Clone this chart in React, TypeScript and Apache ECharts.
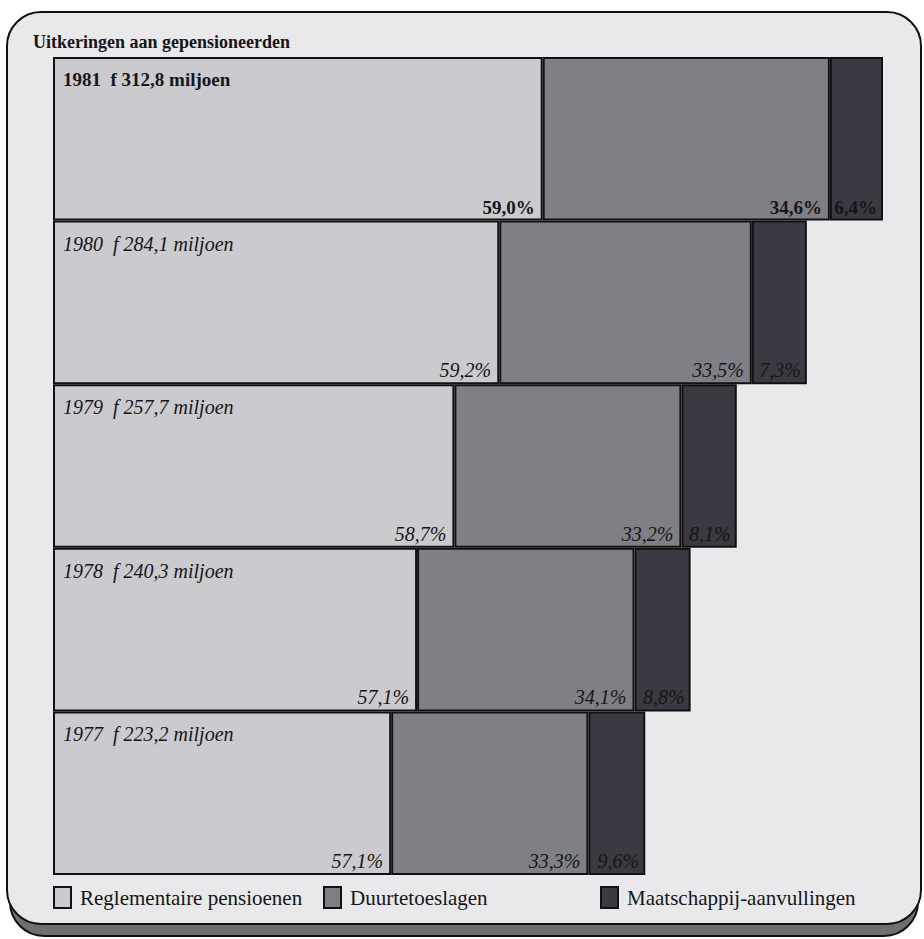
import React, { useEffect, useRef } from "react";
import * as echarts from "echarts";

const years = ["1981", "1980", "1979", "1978", "1977"];
const totals = [312.8, 284.1, 257.7, 240.3, 223.2];
const pctReglementair = [59.0, 59.2, 58.7, 57.1, 57.1];
const pctDuurte = [34.6, 33.5, 33.2, 34.1, 33.3];
const pctMaatschappij = [6.4, 7.3, 8.1, 8.8, 9.6];
const seriesNames = ["Reglementaire pensioenen", "Duurtetoeslagen", "Maatschappij-aanvullingen"];
const seriesColors = ["#cacacf", "#7f7f86", "#3b3941"];
const titleText = "Uitkeringen aan gepensioneerden";

const FONT = "'Liberation Serif', 'DejaVu Serif', serif";

const nl = (v: number) => v.toFixed(1).replace(".", ",");

export default function App() {
  const ref = useRef<HTMLDivElement>(null);
  useEffect(() => {
    if (!ref.current) return;
    const chart = echarts.init(ref.current, null, { renderer: "svg" });
    const pcts = [pctReglementair, pctDuurte, pctMaatschappij];
    const stackSeries = pcts.map((pct, s) => ({
      name: seriesNames[s],
      type: "bar",
      stack: "total",
      barCategoryGap: "0%",
      barGap: "-100%",
      itemStyle: { color: seriesColors[s], borderColor: "#111", borderWidth: 2 },
      label: {
        show: true,
        position: "insideBottomRight",
        distance: 4,
        offset: [s === 2 ? -2 : -4, 0],
        fontFamily: FONT,
        color: "#161616",
      },
      data: years.map((y, i) => ({
        value: (totals[i] * pct[i]) / 100,
        label: {
          formatter: nl(pct[i]) + "%",
          fontSize: i === 0 ? 19 : 20,
          fontWeight: i === 0 ? "bold" : "normal",
          fontStyle: i === 0 ? "normal" : "italic",
        },
      })),
    }));
    const overlay = {
      name: "totaal",
      type: "bar",
      silent: true,
      barCategoryGap: "0%",
      barGap: "-100%",
      z: 3,
      itemStyle: { color: "rgba(0,0,0,0)", borderWidth: 0 },
      label: {
        show: true,
        position: "insideTopLeft",
        distance: 10,
        offset: [0, 3],
        fontFamily: FONT,
        color: "#161616",
      },
      data: years.map((y, i) => ({
        value: totals[i],
        label: {
          formatter: `${y}  f ${nl(totals[i])} miljoen`,
          fontSize: i === 0 ? 19 : 20,
          fontWeight: i === 0 ? "bold" : "normal",
          fontStyle: i === 0 ? "normal" : "italic",
        },
      })),
    };
    const legendLefts = [48, 318, 595];
    chart.setOption({
      animation: false,
      backgroundColor: "#ffffff",
      graphic: [
        {
          type: "rect",
          z: -2,
          shape: { x: 10, y: 24, width: 908, height: 912, r: 34 },
          style: { fill: "#6f6f72", stroke: "#111", lineWidth: 2 },
        },
        {
          type: "rect",
          z: -1,
          shape: { x: 7, y: 12, width: 914, height: 912, r: 34 },
          style: { fill: "#e9e9eb", stroke: "#111", lineWidth: 2 },
        },
      ],
      title: {
        text: titleText,
        left: 28,
        top: 28,
        z: 5,
        textStyle: { fontFamily: FONT, fontSize: 18, fontWeight: "bold", color: "#161616" },
      },
      legend: seriesNames.map((n, k) => ({
        data: [n],
        left: legendLefts[k],
        top: 881,
        itemWidth: 17,
        itemHeight: 21,
        icon: "rect",
        selectedMode: false,
        itemStyle: { borderColor: "#111", borderWidth: 2 },
        textStyle: { fontFamily: FONT, fontSize: 21, color: "#161616", padding: [0, 0, 0, 4] },
      })),
      grid: { left: 53, right: 41, top: 57, bottom: 64 },
      xAxis: { type: "value", min: 0, max: Math.max(...totals), show: false },
      yAxis: { type: "category", data: years, inverse: true, show: false },
      series: [...stackSeries, overlay],
    });
    return () => chart.dispose();
  }, []);
  return (
    <div
      ref={ref}
      style={{ position: "fixed", left: 0, top: 0, width: 924, height: 939 }}
    />
  );
}
